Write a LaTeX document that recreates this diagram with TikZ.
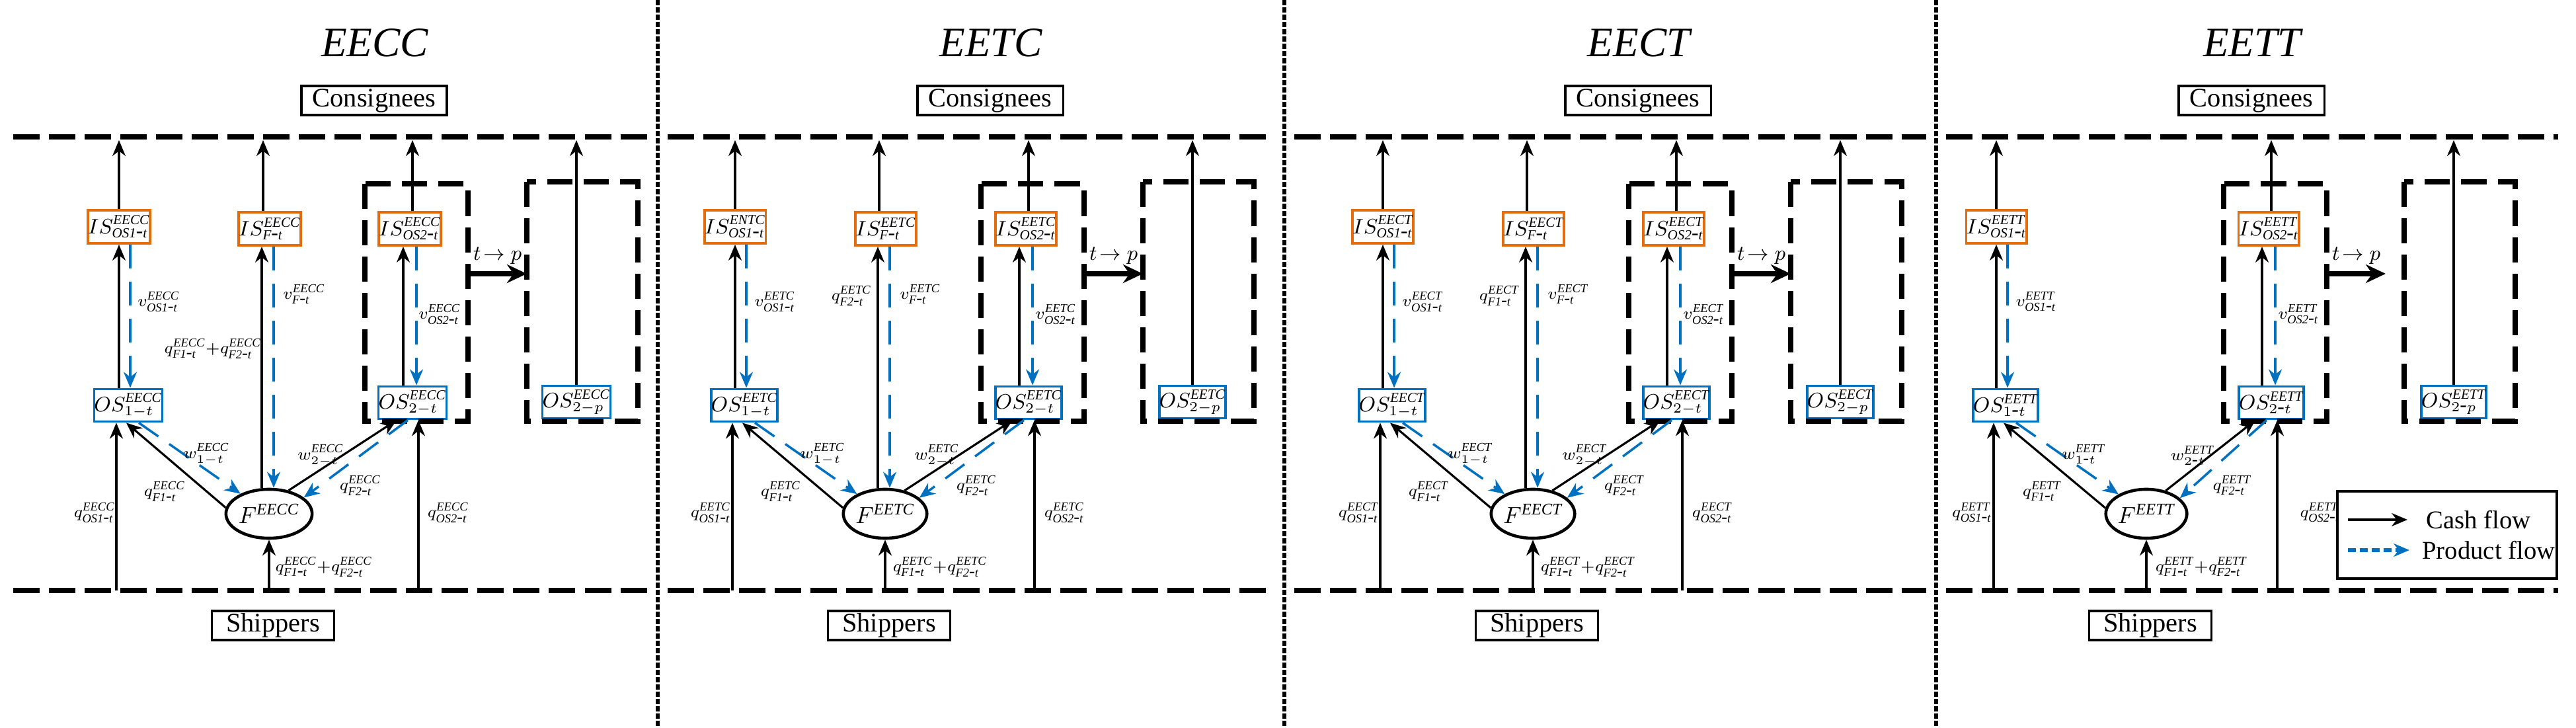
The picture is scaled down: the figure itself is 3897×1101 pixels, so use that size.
\documentclass[tikz,border=0pt]{standalone}
\usepackage{fontspec}
\setmainfont{Liberation Serif}
\usetikzlibrary{arrows.meta,shapes.geometric}

\definecolor{flowblue}{RGB}{0,112,192}
\definecolor{isorange}{RGB}{228,108,10}
\def\dsh{\mbox{-}}

\tikzset{
  cash/.style={-{Stealth[length=0.24cm,width=0.2cm]}, line width=0.9pt},
  prod/.style={-{Stealth[length=0.24cm,width=0.2cm]}, line width=1pt, draw=flowblue,
    dash pattern=on 0.36cm off 0.2cm},
  isbox/.style={draw=isorange, line width=1.1pt, minimum width=0.88cm, minimum height=0.5cm,
    inner sep=0pt, font=\fontsize{9}{10}\selectfont},
  osbox/.style={draw=flowblue, line width=1.1pt, minimum width=0.9cm, minimum height=0.49cm,
    inner sep=0pt, font=\fontsize{9}{10}\selectfont},
  party/.style={draw, line width=0.9pt, minimum width=2.2cm, minimum height=0.44cm,
    inner sep=1pt, font=\fontsize{11.5}{12}\selectfont},
  title/.style={font=\fontsize{18}{20}\selectfont\itshape},
  lbl/.style={font=\fontsize{7.5}{8}\selectfont, inner sep=1pt},
  group/.style={line width=2.3pt, dash pattern=on 0.38cm off 0.17cm},
  border/.style={line width=2.3pt, dash pattern=on 0.4cm off 0.14cm},
  sep/.style={line width=1.8pt, dash pattern=on 0.08cm off 0.03cm},
}

% one panel: #1 name, #2 x offset, #3 tag, #4 tag of IS_OS1, #5 shift of right group, #6 minus
\newcommand{\drawPanel}[6]{%
  \begin{scope}[xshift=#2*0.01cm]
    \node[title] (#1title) at (567,65) {#3};
    \node[party] (#1cons) at (566,152) {Consignees};
    \node[party, minimum width=1.85cm] (#1ship) at (413,946) {Shippers};
    \coordinate (#1top) at (0,212);
    \coordinate (#1bot) at (0,893);

    \node[isbox] (#1isa) at (180,343) {$IS^{\mathit{#4}}_{\mathit{OS1\dsh t}}$};
    \node[osbox] (#1osa) at (194,613) {$OS^{\mathit{#3}}_{1#6t}$};
    \node[draw, ellipse, line width=1.3pt, minimum width=1.22cm, minimum height=0.74cm,
      inner sep=0pt] (#1f) at (407,777) {$F^{\mathit{#3}}$};

    \begin{scope}[xshift=#5*0.01cm]
      \node[isbox] (#1isb) at (620,346) {$IS^{\mathit{#3}}_{\mathit{OS2\dsh t}}$};
      \node[osbox] (#1osb) at (624,609) {$OS^{\mathit{#3}}_{2#6t}$};
      \coordinate (#1boxa) at (552,278);
      \coordinate (#1boxb) at (708,637);
      \coordinate (#1tp) at (797,414);
      \draw[group] (#1boxa) rectangle (#1boxb);
      \draw[-{Stealth[length=0.3cm,width=0.28cm]}, line width=2pt] (#1boxb |- #1tp) -- (#1tp)
        node[midway, above=2pt, lbl, font=\fontsize{9}{10}\selectfont] {$t\!\rightarrow p$};
    \end{scope}
    \node[osbox] (#1osp) at (872,608) {$OS^{\mathit{#3}}_{2#6p}$};
    \coordinate (#1boxc) at (797,275);
    \coordinate (#1boxd) at (965,637);
    \draw[group] (#1boxc) rectangle (#1boxd);

    % cash flows
    \draw[cash] (#1isa.north) -- (#1isa.north |- #1top);
    \draw[cash] ([xshift=0.04cm]#1isb.north) -- ([xshift=0.04cm]#1isb.north |- #1top);
    \draw[cash] (#1osp.north) -- (#1osp.north |- #1top);
    \draw[cash] (#1isa.south |- #1osa.north) -- (#1isa.south);
    \draw[cash] ([xshift=-0.1cm]#1isb.south |- #1osb.north) -- ([xshift=-0.1cm]#1isb.south);
    \draw[cash] ([xshift=-0.18cm]#1osa.south |- #1bot) -- ([xshift=-0.18cm]#1osa.south);
    \draw[cash] (#1f.south |- #1bot) -- (#1f.south);
    \draw[cash] ([xshift=0.09cm]#1osb.south |- #1bot) -- ([xshift=0.09cm]#1osb.south);
    \draw[cash] (#1f.172) -- ([xshift=-0.03cm]#1osa.south);
    \draw[cash] (#1f.50) -- ([xshift=-0.24cm]#1osb.south);

    % product flows
    \draw[prod] ([xshift=0.17cm]#1isa.south) -- ([xshift=0.17cm]#1isa.south |- #1osa.north);
    \draw[prod] ([xshift=0.1cm]#1isb.south) -- ([xshift=0.1cm]#1isb.south |- #1osb.north);
    \draw[prod] ([xshift=0.16cm]#1osa.south) -- (#1f.145);
    \draw[prod] ([xshift=-0.07cm]#1osb.south) -- (#1f.25);

    % labels
    \node[lbl] (#1lva) at (240,456) {$v^{\mathit{#3}}_{\mathit{OS1\dsh t}}$};
    \node[lbl] (#1lvb) at (665+#5,475) {$v^{\mathit{#3}}_{\mathit{OS2\dsh t}}$};
    \node[lbl] (#1lwa) at (312,687) {$w^{\mathit{#3}}_{1#6t}$};
    \node[lbl] (#1lwb) at (485+#5*0.3,689) {$w^{\mathit{#3}}_{2#6t}$};
    \node[lbl] (#1lqa) at (249,743) {$q^{\mathit{#3}}_{\mathit{F1\dsh t}}$};
    \node[lbl] (#1lqb) at (545+#5*0.3,734) {$q^{\mathit{#3}}_{\mathit{F2\dsh t}}$};
    \node[lbl] (#1lqc) at (143,775) {$q^{\mathit{#3}}_{\mathit{OS1\dsh t}}$};
    \node[lbl] (#1lqd) at (678+#5*0.3,775) {$q^{\mathit{#3}}_{\mathit{OS2\dsh t}}$};
    \node[lbl] (#1lqe) at (490,857)
      {$q^{\mathit{#3}}_{\mathit{F1\dsh t}}{+}q^{\mathit{#3}}_{\mathit{F2\dsh t}}$};
  \end{scope}}

% middle column through IS_F: #1 name, #2 x offset, #3 tag, #4 label, #5 label position
\newcommand{\drawMid}[5]{%
  \begin{scope}[xshift=#2*0.01cm]
    \node[isbox] (#1isf) at (408,346) {$IS^{\mathit{#3}}_{\mathit{F\dsh t}}$};
    \draw[cash] ([xshift=-0.1cm]#1isf.north) -- ([xshift=-0.1cm]#1isf.north |- #1top);
    \draw[cash] ([xshift=-0.12cm]#1isf.south |- #1f.north) -- ([xshift=-0.12cm]#1isf.south);
    \draw[prod] ([xshift=0.06cm]#1isf.south) -- ([xshift=0.06cm]#1isf.south |- #1f.north);
    \node[lbl] (#1lvf) at (460,445) {$v^{\mathit{#3}}_{\mathit{F\dsh t}}$};
    \node[lbl] (#1lqf) at (#5) {#4};
  \end{scope}}

\begin{document}
\begin{tikzpicture}[x=0.01cm, y=-0.01cm]
  \useasboundingbox (0,0) rectangle (3897,1101);

  \drawPanel{a}{0}{EECC}{EECC}{0}{-}
  \drawMid{a}{0}{EECC}{$q^{\mathit{EECC}}_{\mathit{F1\dsh t}}{+}q^{\mathit{EECC}}_{\mathit{F2\dsh t}}$}{322,527}
  \drawPanel{b}{932}{EETC}{ENTC}{0}{-}
  \drawMid{b}{932}{EETC}{$q^{\mathit{EETC}}_{\mathit{F2\dsh t}}$}{356,447}
  \drawPanel{c}{1912}{EECT}{EECT}{0}{-}
  \drawMid{c}{1912}{EECT}{$q^{\mathit{EECT}}_{\mathit{F1\dsh t}}$}{356,447}
  \drawPanel{d}{2840}{EETT}{EETT}{-28}{\dsh}

  % borders between the parties and the panels
  \foreach \xa/\xb in {20/980, 1010/1928, 1958/2914, 2944/3870} {
    \draw[border] (\xa,207) -- (\xb,207);
    \draw[border] (\xa,893) -- (\xb,893);
  }
  \foreach \xs in {995, 1943, 2929}
    \draw[sep] (\xs,0) -- (\xs,1101);

  % legend
  \node[draw, line width=1.3pt, minimum width=3.32cm, minimum height=1.32cm, fill=white]
    (legend) at (3702,809) {};
  \coordinate (ca) at (3552,786);
  \coordinate (cb) at (3642,786);
  \coordinate (pa) at (3552,832);
  \coordinate (pb) at (3645,832);
  \draw[cash] (ca) -- (cb);
  \draw[prod, line width=1.6pt, dash pattern=on 0.12cm off 0.06cm] (pa) -- (pb);
  \node[anchor=west, font=\fontsize{11}{12}\selectfont] (lcash) at (3658,786) {Cash flow};
  \node[anchor=west, font=\fontsize{11}{12}\selectfont] (lprod) at (3652,832) {Product flow};
\end{tikzpicture}
\end{document}
